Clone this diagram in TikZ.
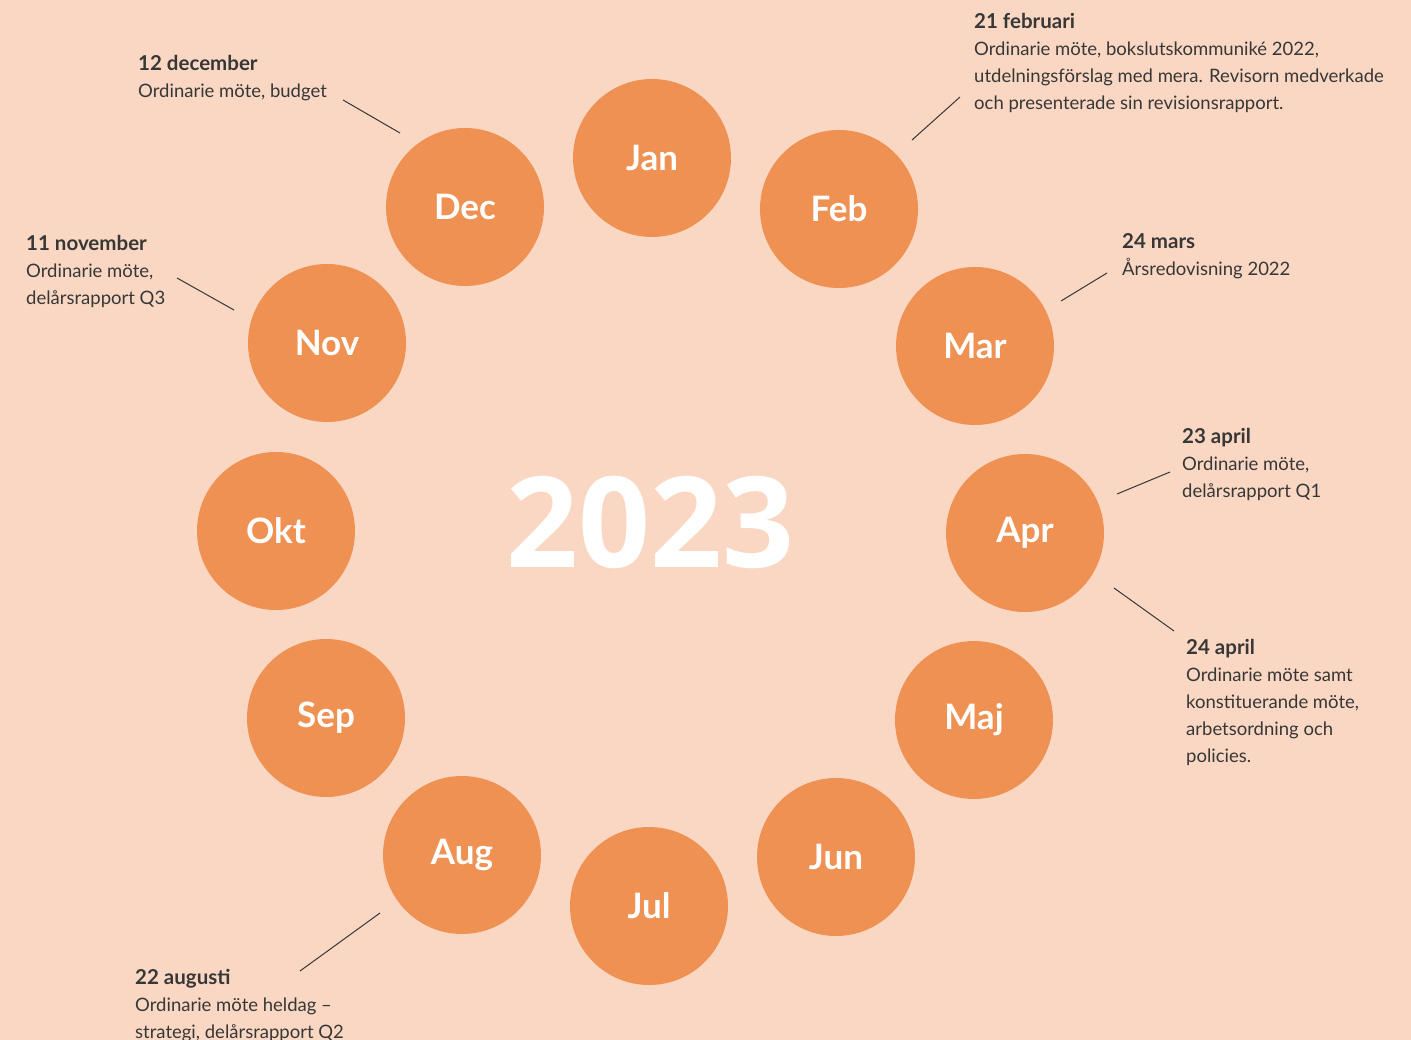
\documentclass[tikz,border=0pt]{standalone}
\usepackage{fontspec}
\setmainfont{Lato}
\newfontfamily\yearfont{Open Sans}
\definecolor{bgpeach}{RGB}{250,215,195}
\definecolor{orng}{RGB}{240,145,84}
\definecolor{ink}{RGB}{55,55,55}
\newcommand{\ttl}[1]{{\fontsize{20.5}{27}\selectfont\bfseries #1}}
\begin{document}
\begin{tikzpicture}[x=1pt,y=-1pt,
  month/.style={circle,fill=orng,minimum size=158pt,inner sep=0pt,text=white,
    font=\fontsize{35}{35}\selectfont\bfseries},
  note/.style={anchor=base west,align=left,inner sep=0pt,text=ink,
    font=\fontsize{18.5}{27}\selectfont},
  lead/.style={draw=ink,line width=1pt}]
\fill[bgpeach] (0,0) rectangle (1411,1040);
\useasboundingbox (0,0) rectangle (1411,1040);

\node[month] (jan) at (652,158) {Jan};
\node[month] (feb) at (839,209) {Feb};
\node[month] (mar) at (975,346) {Mar};
\node[month] (apr) at (1025,533) {Apr};
\node[month] (maj) at (974,720) {Maj};
\node[month] (jun) at (836,857) {Jun};
\node[month] (jul) at (649,906) {Jul};
\node[month] (aug) at (462,855) {Aug};
\node[month] (sep) at (326,718) {Sep};
\node[month] (okt) at (276,531) {Okt};
\node[month] (nov) at (327,343) {Nov};
\node[month] (dec) at (465,207) {Dec};

\node[text=white,font=\yearfont\fontsize{126}{126}\selectfont\bfseries] (year) at (650,522) {2023};

% anchor = baseline of last line
\node[note] (nfeb) at (974,110) {\ttl{21 februari}\\Ordinarie möte, bokslutskommuniké 2022,\\utdelningsförslag med mera. Revisorn medverkade\\och presenterade sin revisionsrapport.};
\node[note] (ndec) at (138,98) {\ttl{12 december}\\Ordinarie möte, budget};
\node[note] (nnov) at (26,305) {\ttl{11 november}\\Ordinarie möte,\\delårsrapport Q3};
\node[note] (nmar) at (1122,276) {\ttl{24 mars}\\Årsredovisning 2022};
\node[note] (napr1) at (1182,497) {\ttl{23 april}\\Ordinarie möte,\\delårsrapport Q1};
\node[note] (napr2) at (1186,762) {\ttl{24 april}\\Ordinarie möte samt\\konstituerande möte,\\arbetsordning och\\policies.};
\node[note] (naug) at (135,1038) {\ttl{22 augusti}\\Ordinarie möte heldag –\\strategi, delårsrapport Q2};

\coordinate (cdecA) at (343,100);  \coordinate (cdecB) at (400,133);
\coordinate (cnovA) at (177,278);  \coordinate (cnovB) at (234,310);
\coordinate (cfebA) at (960,97);   \coordinate (cfebB) at (912,140);
\coordinate (cmarA) at (1107,273); \coordinate (cmarB) at (1061,301);
\coordinate (capaA) at (1170,472); \coordinate (capaB) at (1117,494);
\coordinate (capbA) at (1174,631); \coordinate (capbB) at (1114,588);
\coordinate (caugA) at (300,971);  \coordinate (caugB) at (380,913);

\draw[lead] (cdecA) -- (cdecB);
\draw[lead] (cnovA) -- (cnovB);
\draw[lead] (cfebA) -- (cfebB);
\draw[lead] (cmarA) -- (cmarB);
\draw[lead] (capaA) -- (capaB);
\draw[lead] (capbA) -- (capbB);
\draw[lead] (caugA) -- (caugB);
\end{tikzpicture}
\end{document}
